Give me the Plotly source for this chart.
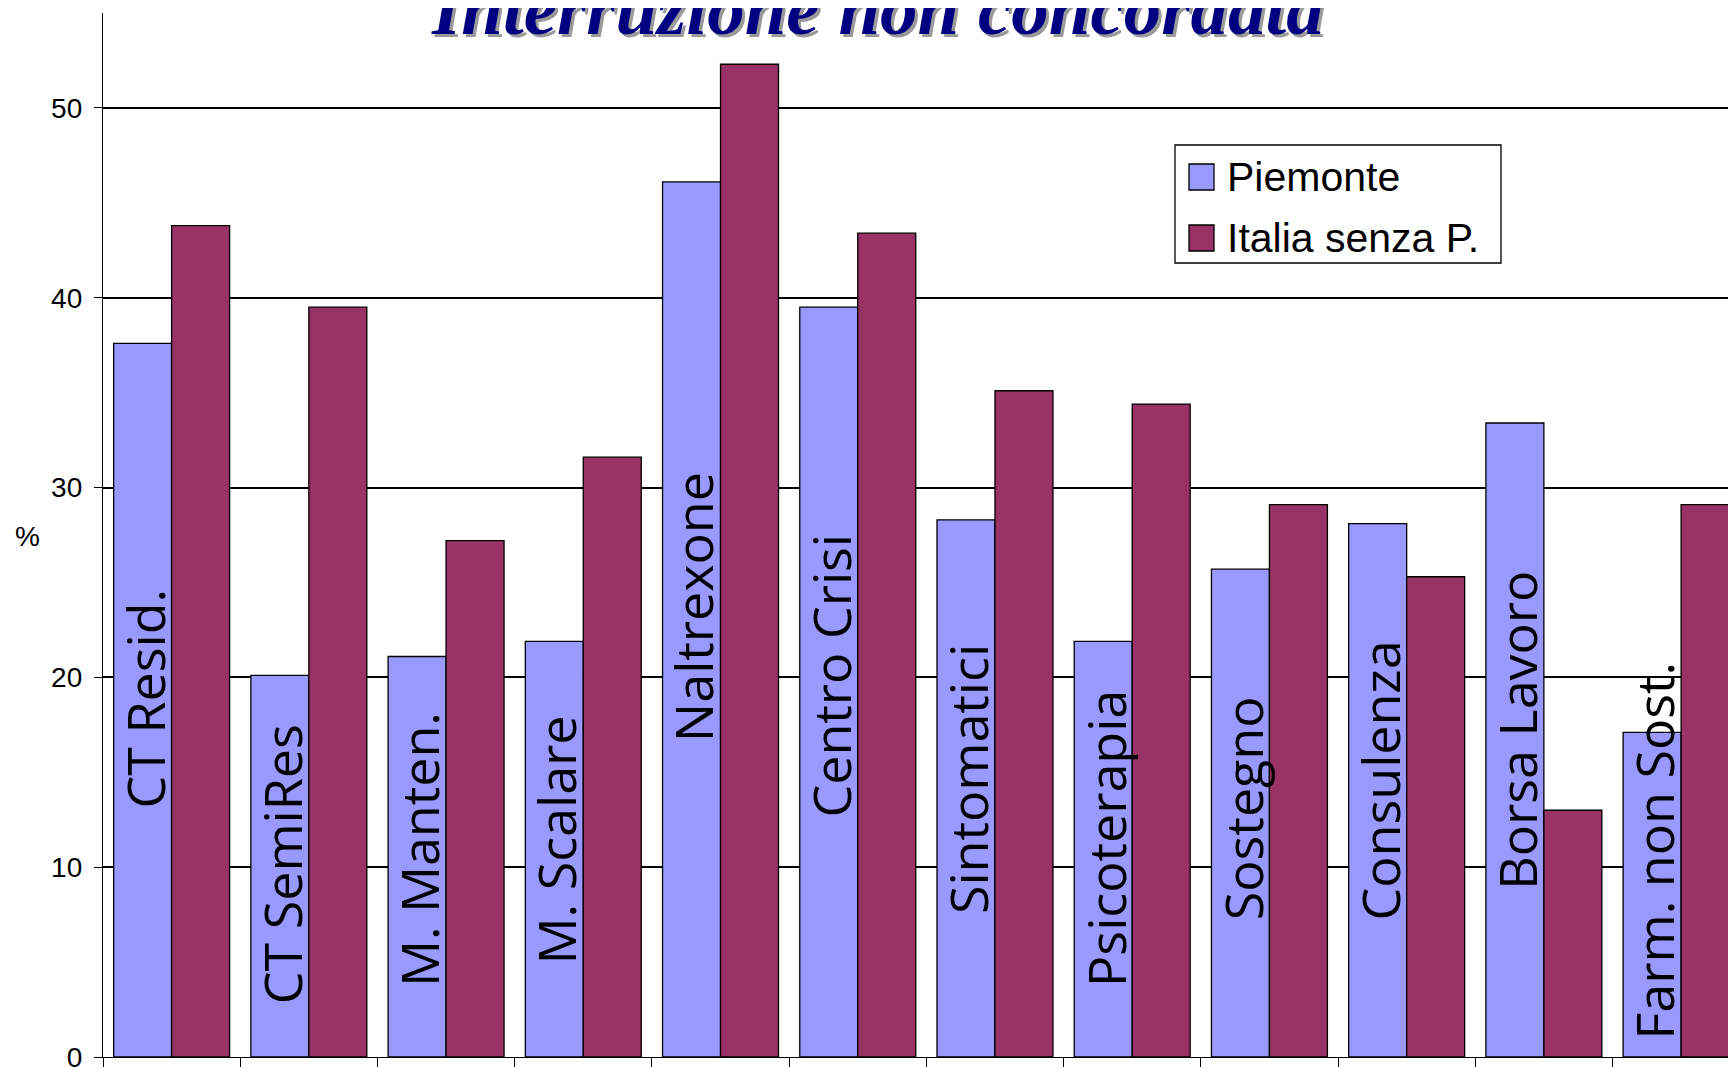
import plotly.graph_objects as go

# dati
categorie = ["CT Resid.", "CT SemiRes", "M. Manten.", "M. Scalare", "Naltrexone",
             "Centro Crisi", "Sintomatici", "Psicoterapia", "Sostegno",
             "Consulenza", "Borsa Lavoro", "Farm. non Sost."]
piemonte = [37.6, 20.1, 21.1, 21.9, 46.1, 39.5, 28.3, 21.9, 25.7, 28.1, 33.4, 17.1]
italia = [43.8, 39.5, 27.2, 31.6, 52.3, 43.4, 35.1, 34.4, 29.1, 25.3, 13.0, 29.1]
serie = ["Piemonte", "Italia senza P."]
colori = ["#9999FF", "#993366"]

# dove parte il testo ruotato dentro le barre (in unità %)
label_base = [13.0, 2.7, 3.6, 4.8, 16.5, 12.5, 7.4, 3.6, 7.1, 7.1, 8.7, 0.8]

# la pagina html ha 8px di margine sul body
OFF = 8
W, H = 1736 - OFF, 1067 - OFF
ML, MR, MT, MB = 95, 0, 5, 10


def px(x):
    return (x - OFF - ML) / (W - ML - MR)


def py(y):
    return 1 - (y - OFF - MT) / (H - MT - MB)


fig = go.Figure()
for nome, vals, col in zip(serie, [piemonte, italia], colori):
    fig.add_trace(go.Bar(
        x=categorie, y=vals, name=nome,
        marker=dict(color=col, line=dict(color="black", width=1.3)),
    ))

ann = []
# etichette categorie ruotate dentro le barre
for i, (cat, yb) in enumerate(zip(categorie, label_base)):
    ann.append(dict(
        x=i - 0.2, y=yb, xref="x", yref="y", text=cat, showarrow=False,
        textangle=-90, xanchor="center", yanchor="bottom",
        font=dict(family="Open Sans", size=52, color="black"),
    ))

# titolo con ombra
titolo = "Interruzione non concordata"
for dx, dy, c in [(3, -3, "#9a9a9a"), (0, 0, "#000080")]:
    ann.append(dict(
        x=px(877), y=py(52), xref="paper", yref="paper", text=titolo,
        showarrow=False, xanchor="center", yanchor="bottom", xshift=dx, yshift=dy,
        font=dict(family="Liberation Serif", size=75, color=c,
                  weight="bold", style="italic"),
    ))

ann.append(dict(x=px(27), y=py(536), xref="paper", yref="paper", text="%",
                showarrow=False, xanchor="center", yanchor="middle",
                font=dict(family="Liberation Sans", size=28, color="black")))

# legenda disegnata a mano
shapes = [dict(type="rect", xref="paper", yref="paper",
               x0=px(1175), x1=px(1501), y0=py(145), y1=py(263),
               line=dict(color="black", width=1.3), fillcolor="white", layer="above")]
for nome, col, (ys0, ys1, yt) in zip(serie, colori, [(164, 190, 177), (225, 251, 238)]):
    shapes.append(dict(type="rect", xref="paper", yref="paper",
                       x0=px(1189), x1=px(1214), y0=py(ys1), y1=py(ys0),
                       line=dict(color="black", width=1.3), fillcolor=col, layer="above"))
    ann.append(dict(x=px(1225), y=py(yt), xref="paper", yref="paper", text=nome,
                    showarrow=False, xanchor="left", yanchor="middle",
                    font=dict(family="Liberation Sans", size=41, color="black")))

fig.update_layout(
    width=W, height=H,
    margin=dict(l=ML, r=MR, t=MT, b=MB),
    paper_bgcolor="white", plot_bgcolor="white",
    barmode="group", bargap=0.155, bargroupgap=0,
    showlegend=False,
    annotations=ann, shapes=shapes,
    xaxis=dict(type="category", range=[-0.5, 11.4], showticklabels=False,
               automargin=False,
               showline=True, linecolor="black", linewidth=1.3,
               ticks="outside", tickson="boundaries", ticklen=12,
               tickcolor="black", tickwidth=1.3, showgrid=False),
    yaxis=dict(range=[0, 55], dtick=10, tick0=0, showgrid=True, automargin=False,
               gridcolor="black", gridwidth=1.5, zeroline=False,
               showline=True, linecolor="black", linewidth=1.3,
               ticks="outside", ticklen=8, tickcolor="black", tickwidth=1.3,
               ticklabelstandoff=6, ticklabeloverflow="allow",
               tickfont=dict(family="Liberation Sans", size=28, color="black")),
)

fig.write_html("out.html")
